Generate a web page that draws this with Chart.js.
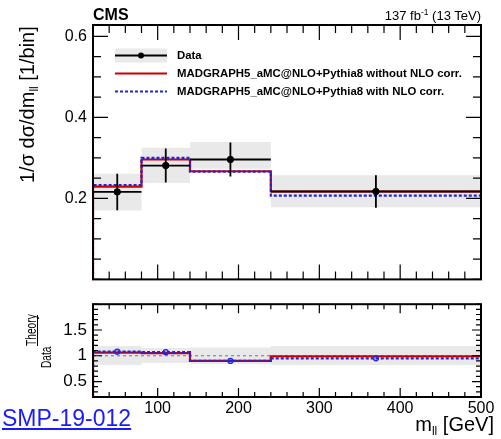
<!DOCTYPE html>
<html>
<head>
<meta charset="utf-8">
<script src="https://cdn.jsdelivr.net/npm/chart.js@4.4.0/dist/chart.umd.min.js"></script>
<style>
body { margin: 0; background: #fff; }
#wrap { position: relative; width: 501px; height: 439px; overflow: hidden; font-family: 'Liberation Sans', Arial, sans-serif; }
canvas { position: absolute; left: 0; }
#topChart { top: 0; }
#ratioChart { top: 288px; }
.lbl { position: absolute; white-space: nowrap; line-height: 1; color: #000; }
.rot { transform-origin: 0 0; transform: rotate(-90deg); }
.rotn { transform-origin: 0 0; transform: rotate(-90deg) scaleX(0.68); }
.lbl sub { font-size: 60%; vertical-align: baseline; position: relative; top: 0.3em; }
.lbl sup { font-size: 65%; vertical-align: baseline; position: relative; top: -0.55em; }
</style>
</head>
<body>
<div id="wrap">
  <canvas id="topChart" width="501" height="295"></canvas>
  <canvas id="ratioChart" width="501" height="151"></canvas>

  <div class="lbl" style="left:93px;top:7px;font-weight:bold;font-size:16px;">CMS</div>
  <div class="lbl" style="right:20px;top:9px;font-size:13px;">137 fb<sup>-1</sup> (13 TeV)</div>
  <div class="lbl rot" style="left:17px;top:183px;font-size:20px;">1/σ dσ/dm<sub>ll</sub> [1/bin]</div>

  <div class="lbl rotn" style="left:23px;top:346px;font-size:15px;">Theory</div>
  <div style="position:absolute;left:37px;top:315px;width:1.2px;height:31px;background:#000;"></div>
  <div class="lbl rotn" style="left:38px;top:368px;font-size:15px;">Data</div>

  <div class="lbl" style="right:7px;top:414px;font-size:20px;">m<sub>ll</sub> [GeV]</div>
  <a class="lbl" href="#" style="left:2px;top:407px;font-size:23px;color:#1a1aff;text-decoration:underline;">SMP-19-012</a>
</div>

<script>
// bins and values
const binEdges = [20, 80, 140, 240, 500];
const binCenters = [50, 110, 190, 370];
const dataVals = [0.216, 0.281, 0.296, 0.217];
const dataErr = [0.045, 0.042, 0.042, 0.040];
const bandLow = [0.170, 0.238, 0.273, 0.178];
const bandHigh = [0.261, 0.325, 0.339, 0.257];
const noCorrVals = [0.229, 0.296, 0.267, 0.217];
const withCorrVals = [0.233, 0.300, 0.266, 0.207];

const ratioNoCorr = [1.06, 1.05, 0.90, 0.99];
const ratioWithCorr = [1.08, 1.07, 0.90, 0.95];
const ratioBandLow = [0.82, 0.86, 0.84, 0.82];
const ratioBandHigh = [1.19, 1.15, 1.16, 1.19];

const xTickLabels = [100, 200, 300, 400, 500];
const yTickLabels = [0.2, 0.4, 0.6];
const ratioTickLabels = [0.5, 1, 1.5];

const RED = '#cc0000';
const BLUE = '#2323dd';
const BAND = '#e9e9e9';
const FONT = "'Liberation Sans', Arial, sans-serif";

// histogram outline from bin edges
function stepPoints(vals, base) {
  const pts = [];
  if (base !== undefined) pts.push({x: binEdges[0], y: base});
  vals.forEach((v, i) => pts.push({x: binEdges[i], y: v}));
  pts.push({x: binEdges[binEdges.length - 1], y: vals[vals.length - 1]});
  return pts;
}

function errorBarPoints() {
  const pts = [];
  binCenters.forEach((c, i) => {
    pts.push({x: binEdges[i], y: dataVals[i]}, {x: binEdges[i + 1], y: dataVals[i]}, {x: c, y: null});
    pts.push({x: c, y: dataVals[i] - dataErr[i]}, {x: c, y: dataVals[i] + dataErr[i]}, {x: c, y: null});
  });
  return pts;
}

// ROOT style frame with ticks on the inside
const frameTicks = {
  id: 'frameTicks',
  afterDatasetsDraw(chart, args, o) {
    const {ctx, chartArea: a, scales: {x, y}} = chart;
    ctx.save();
    ctx.strokeStyle = '#000';
    ctx.lineWidth = 1.2;
    ctx.beginPath();
    const near = (v, list) => list.some(m => Math.abs(m - v) < 1e-6);
    for (let v = x.min; v <= x.max + 1e-6; v += o.xMinor) {
      const px = x.getPixelForValue(v);
      const len = near(v, o.xMajor) ? o.major : o.minor;
      ctx.moveTo(px, a.bottom); ctx.lineTo(px, a.bottom - len);
      ctx.moveTo(px, a.top); ctx.lineTo(px, a.top + len);
    }
    const start = Math.ceil(y.min / o.yMinor - 1e-6) * o.yMinor;
    for (let v = start; v <= y.max + 1e-6; v += o.yMinor) {
      const py = y.getPixelForValue(v);
      const len = near(Math.round(v * 1000) / 1000, o.yMajor) ? o.major : o.minor;
      ctx.moveTo(a.left, py); ctx.lineTo(a.left + len, py);
      ctx.moveTo(a.right, py); ctx.lineTo(a.right - len, py);
    }
    ctx.stroke();
    ctx.lineWidth = 2;
    ctx.strokeRect(a.left, a.top, a.right - a.left, a.bottom - a.top);
    ctx.restore();
  }
};

// legend drawn inside the plot, like the original
const histLegend = {
  id: 'histLegend',
  afterDraw(chart, args, o) {
    if (!o.show) return;
    const ctx = chart.ctx;
    const items = chart.data.datasets.filter(d => d.legendRow !== undefined)
      .sort((a, b) => a.legendRow - b.legendRow);
    ctx.save();
    ctx.font = 'bold 11.4px ' + FONT;
    ctx.textBaseline = 'middle';
    items.forEach((d, i) => {
      const yy = o.y0 + i * o.dy;
      const x0 = o.x0, x1 = o.x0 + o.w;
      if (d.legendKind === 'data') {
        ctx.fillStyle = BAND;
        ctx.fillRect(x0, yy - 7, o.w, 14);
        ctx.strokeStyle = '#000';
        ctx.lineWidth = 1.8;
        ctx.beginPath(); ctx.moveTo(x0, yy); ctx.lineTo(x1, yy); ctx.stroke();
        ctx.fillStyle = '#000';
        ctx.beginPath(); ctx.arc((x0 + x1) / 2, yy, 3, 0, Math.PI * 2); ctx.fill();
      } else {
        ctx.strokeStyle = d.borderColor;
        ctx.lineWidth = d.borderWidth;
        ctx.setLineDash(d.borderDash || []);
        ctx.beginPath(); ctx.moveTo(x0, yy); ctx.lineTo(x1, yy); ctx.stroke();
        ctx.setLineDash([]);
      }
      ctx.fillStyle = '#000';
      ctx.fillText(d.label, o.tx, yy + 0.5);
    });
    ctx.restore();
  }
};

Chart.register(frameTicks, histLegend);

const lineBase = {type: 'line', pointRadius: 0, tension: 0, fill: false, spanGaps: false};

const topChart = new Chart(document.getElementById('topChart'), {
  data: {
    datasets: [
      {...lineBase, data: stepPoints(bandLow), stepped: true, borderWidth: 0, order: 5},
      {...lineBase, data: stepPoints(bandHigh), stepped: true, borderWidth: 0, fill: '-1', backgroundColor: BAND, order: 4},
      {...lineBase, label: 'MADGRAPH5_aMC@NLO+Pythia8 without NLO corr.', legendRow: 1, legendKind: 'line',
        data: stepPoints(noCorrVals, 0), stepped: true, borderColor: RED, borderWidth: 2.2, order: 3},
      {...lineBase, label: 'MADGRAPH5_aMC@NLO+Pythia8 with NLO corr.', legendRow: 2, legendKind: 'line',
        data: stepPoints(withCorrVals, 0), stepped: true, borderColor: BLUE, borderWidth: 2.2, borderDash: [3, 2], order: 2},
      {...lineBase, data: errorBarPoints(), borderColor: '#000', borderWidth: 1.8, order: 1},
      {type: 'scatter', label: 'Data', legendRow: 0, legendKind: 'data',
        data: binCenters.map((c, i) => ({x: c, y: dataVals[i]})),
        pointRadius: 3.2, backgroundColor: '#000', borderColor: '#000', order: 0}
    ]
  },
  options: {
    responsive: false,
    animation: false,
    events: [],
    layout: {padding: {top: 25, right: 20, left: 0, bottom: 0}},
    plugins: {
      legend: {display: false},
      tooltip: {enabled: false},
      frameTicks: {xMinor: 20, yMinor: 0.05, xMajor: xTickLabels, yMajor: yTickLabels, major: 15, minor: 8},
      histLegend: {show: true, x0: 115, w: 52, tx: 177, y0: 55.5, dy: 18}
    },
    scales: {
      x: {
        type: 'linear', min: 20, max: 500,
        grid: {display: false, drawTicks: false}, border: {display: false},
        ticks: {display: false},
        afterFit: s => { s.height = 8; }
      },
      y: {
        min: 0, max: 0.628,
        grid: {display: false, drawTicks: false}, border: {display: false},
        afterBuildTicks: s => { s.ticks = yTickLabels.map(v => ({value: v})); },
        ticks: {color: '#000', padding: 6, font: {family: FONT, size: 16}, callback: v => String(v)},
        afterFit: s => { s.width = 93; }
      }
    }
  }
});

const ratioChart = new Chart(document.getElementById('ratioChart'), {
  data: {
    datasets: [
      {...lineBase, data: stepPoints(ratioBandLow), stepped: true, borderWidth: 0, order: 6},
      {...lineBase, data: stepPoints(ratioBandHigh), stepped: true, borderWidth: 0, fill: '-1', backgroundColor: BAND, order: 5},
      {...lineBase, data: [{x: binEdges[0], y: 1}, {x: binEdges[binEdges.length - 1], y: 1}],
        borderColor: '#777', borderWidth: 1, borderDash: [3, 3], order: 4},
      {...lineBase, data: stepPoints(ratioNoCorr, 0.2), stepped: true, borderColor: RED, borderWidth: 2.2, order: 3},
      {...lineBase, data: stepPoints(ratioWithCorr, 0.2), stepped: true, borderColor: BLUE, borderWidth: 2.2, borderDash: [3, 2], order: 2},
      {type: 'scatter', data: binCenters.map((c, i) => ({x: c, y: ratioWithCorr[i]})),
        pointRadius: 2.5, borderWidth: 1.2, borderColor: BLUE, backgroundColor: 'rgba(35,35,221,0.3)', order: 1}
    ]
  },
  options: {
    responsive: false,
    animation: false,
    events: [],
    layout: {padding: {top: 8, right: 20, left: 0, bottom: 0}},
    plugins: {
      legend: {display: false},
      tooltip: {enabled: false},
      frameTicks: {xMinor: 20, yMinor: 0.1, xMajor: xTickLabels, yMajor: ratioTickLabels, major: 9, minor: 5},
      histLegend: {show: false}
    },
    scales: {
      x: {
        type: 'linear', min: 20, max: 500,
        grid: {display: false, drawTicks: false}, border: {display: false},
        afterBuildTicks: s => { s.ticks = xTickLabels.map(v => ({value: v})); },
        ticks: {color: '#000', padding: 2, maxRotation: 0, font: {family: FONT, size: 16}, callback: v => String(v)},
        afterFit: s => { s.height = 42; }
      },
      y: {
        min: 0.2, max: 2.0,
        grid: {display: false, drawTicks: false}, border: {display: false},
        afterBuildTicks: s => { s.ticks = ratioTickLabels.map(v => ({value: v})); },
        ticks: {color: '#000', padding: 6, font: {family: FONT, size: 17}, callback: v => String(v)},
        afterFit: s => { s.width = 93; }
      }
    }
  }
});
</script>
</body>
</html>
